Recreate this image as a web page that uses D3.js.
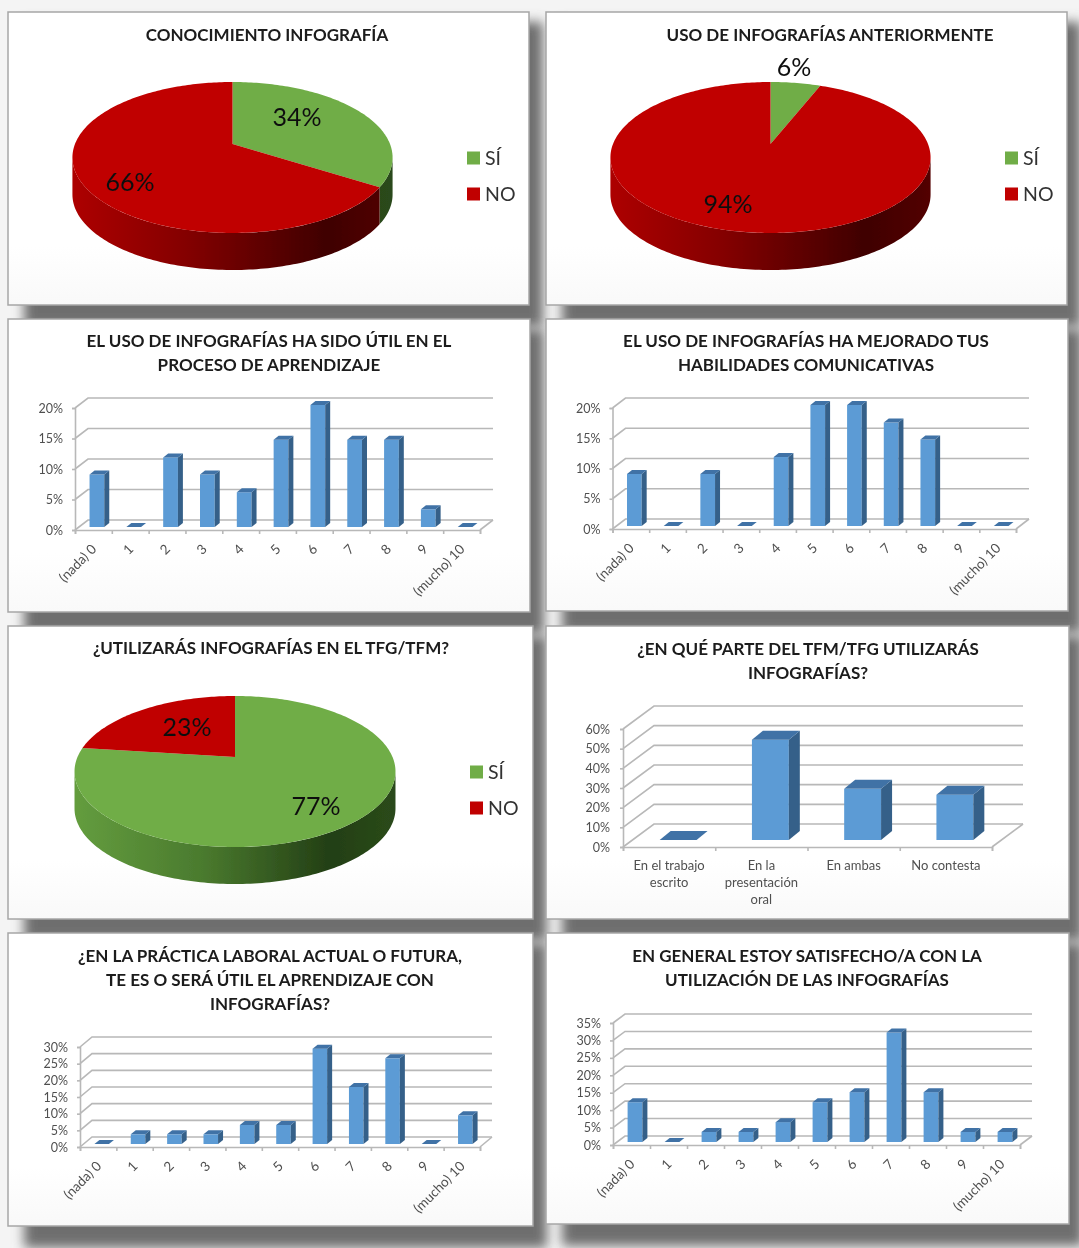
<!DOCTYPE html>
<html>
<head>
<meta charset="utf-8">
<script src="https://cdn.jsdelivr.net/npm/d3@7"></script>
<style>
html, body { margin: 0; padding: 0; background: #fff; }
svg { display: block; }
text { font-family: Lato, "Open Sans", sans-serif; }
</style>
</head>
<body>
<div id="chart"></div>
<script>
// ---- data ----
var pieLabels = ["SÍ", "NO"];
var conocimiento = [34, 66];
var usoAnterior = [6, 94];
var utilizaras = [77, 23];

var scale11 = ["(nada) 0", "1", "2", "3", "4", "5", "6", "7", "8", "9", "(mucho) 10"];
var utilAprendizaje = [8.6, 0, 11.4, 8.6, 5.7, 14.3, 20, 14.3, 14.3, 2.9, 0];
var habilidades = [8.6, 0, 8.6, 0, 11.4, 20, 20, 17.1, 14.3, 0, 0];
var practicaLaboral = [0, 2.9, 2.9, 2.9, 5.7, 5.7, 28.6, 17.1, 25.7, 0, 8.6];
var satisfecho = [11.4, 0, 2.9, 2.9, 5.7, 11.4, 14.3, 31.4, 14.3, 2.9, 2.9];

var parteCats = [["En el trabajo", "escrito"], ["En la", "presentación", "oral"], ["En ambas"], ["No contesta"]];
var parteValues = [0, 51, 26, 23];

var ticks20 = [0, 5, 10, 15, 20];
var ticks30 = [0, 5, 10, 15, 20, 25, 30];
var ticks35 = [0, 5, 10, 15, 20, 25, 30, 35];
var ticks60 = [0, 10, 20, 30, 40, 50, 60];

var titles = [
    ["CONOCIMIENTO INFOGRAFÍA"],
    ["USO DE INFOGRAFÍAS ANTERIORMENTE"],
    ["EL USO DE INFOGRAFÍAS HA SIDO ÚTIL EN EL", "PROCESO DE APRENDIZAJE"],
    ["EL USO DE INFOGRAFÍAS HA MEJORADO TUS", "HABILIDADES COMUNICATIVAS"],
    ["¿UTILIZARÁS INFOGRAFÍAS EN EL TFG/TFM?"],
    ["¿EN QUÉ PARTE DEL TFM/TFG UTILIZARÁS", "INFOGRAFÍAS?"],
    ["¿EN LA PRÁCTICA LABORAL ACTUAL O FUTURA,", "TE ES O SERÁ ÚTIL EL APRENDIZAJE CON", "INFOGRAFÍAS?"],
    ["EN GENERAL ESTOY SATISFECHO/A CON LA", "UTILIZACIÓN DE LAS INFOGRAFÍAS"]
];

// ---- layout ----
var width = 1079, height = 1248;
var GREEN = "#70ad47", RED = "#c00000";
var TICK_COLOR = "#505050", GRID = "#b8b8b8";
var WALL_STOPS = {
    "SÍ": [[0, "#639c3e"], [0.4, "#4a7a2e"], [0.8, "#233f15"], [1, "#2a4a1a"]],
    "NO": [[0, "#ac0000"], [0.35, "#840000"], [0.8, "#3f0000"], [1, "#520000"]]
};

var panels = [
    { x: 8, y: 12, w: 521, h: 293, tx: 267, ty: 35 },
    { x: 546, y: 12, w: 521, h: 293, tx: 830, ty: 35 },
    { x: 8, y: 319, w: 522, h: 293, tx: 269, ty: 341 },
    { x: 546, y: 319, w: 522, h: 292, tx: 806, ty: 341 },
    { x: 8, y: 626, w: 525, h: 293, tx: 271, ty: 648 },
    { x: 546, y: 626, w: 523, h: 293, tx: 808, ty: 649 },
    { x: 8, y: 933, w: 525, h: 293, tx: 270, ty: 956 },
    { x: 546, y: 933, w: 523, h: 291, tx: 807, ty: 956 }
];

var svg = d3.select("#chart").append("svg")
    .attr("width", width)
    .attr("height", height)
    .attr("viewBox", [0, 0, width, height]);

var defs = svg.append("defs");

defs.append("filter").attr("id", "soft")
    .attr("x", 0).attr("y", 0).attr("width", 1).attr("height", 1)
    .append("feGaussianBlur").attr("stdDeviation", 0.55);

defs.append("filter").attr("id", "shadow")
    .attr("x", "-10%").attr("y", "-15%").attr("width", "120%").attr("height", "130%")
    .append("feGaussianBlur").attr("stdDeviation", 6);

var panelFill = defs.append("linearGradient").attr("id", "panelFill")
    .attr("x1", 0).attr("x2", 0).attr("y1", 0).attr("y2", 1);
panelFill.append("stop").attr("offset", 0.8).attr("stop-color", "#fff");
panelFill.append("stop").attr("offset", 1).attr("stop-color", "#f9f9f9");

var root = svg.append("g").attr("filter", "url(#soft)");
root.append("rect").attr("width", width).attr("height", height).attr("fill", "#f4f4f4");

// shadows first so that no panel is covered by its neighbour's shadow
root.selectAll(".shadow").data(panels).enter().append("rect")
    .attr("x", function (d) { return d.x + 16; })
    .attr("y", function (d) { return d.y + 10; })
    .attr("width", function (d) { return d.w - 2; })
    .attr("height", function (d) { return d.h + 12; })
    .attr("fill", "#6e6e6e")
    .attr("filter", "url(#shadow)");

root.selectAll(".panel").data(panels).enter().append("rect")
    .attr("x", function (d) { return d.x; })
    .attr("y", function (d) { return d.y; })
    .attr("width", function (d) { return d.w; })
    .attr("height", function (d) { return d.h; })
    .attr("fill", "url(#panelFill)")
    .attr("stroke", "#a6a6a6")
    .attr("stroke-width", 1.5);

panels.forEach(function (p, i) {
    titles[i].forEach(function (line, k) {
        root.append("text")
            .attr("x", p.tx)
            .attr("y", p.ty + k * 24)
            .attr("dy", "0.35em")
            .attr("text-anchor", "middle")
            .attr("font-size", 17)
            .attr("font-weight", 700)
            .attr("fill", "#1a1a1a")
            .text(line);
    });
});

// perspective view of a round pie: far half is squashed, near half is stretched
function pieProjector(c) {
    var persp = (c.near - c.far) / (c.near + c.far);
    var a = c.far * (1 + persp);
    return function (angle) {
        var u = Math.sin(angle), v = Math.cos(angle), w = 1 + persp * v;
        return [c.cx + c.r * u / w, c.cy - a * v / w];
    };
}

function arcPoints(project, a0, a1) {
    var n = Math.max(2, Math.ceil((a1 - a0) / 0.02));
    return d3.range(n + 1).map(function (i) {
        return project(a0 + (a1 - a0) * i / n);
    });
}

function drawPie(c, values, labelPos, legendX, legendY) {
    var project = pieProjector(c);
    var colors = d3.scaleOrdinal().domain(pieLabels).range([GREEN, RED]);
    var slices = d3.pie().sort(null)(values);
    var line = d3.line();

    var persp = (c.near - c.far) / (c.near + c.far);
    var wallStart = Math.acos(-persp), wallEnd = 2 * Math.PI - wallStart;

    // side wall, only the part facing the viewer
    slices.forEach(function (s, i) {
        var a0 = Math.max(s.startAngle, wallStart), a1 = Math.min(s.endAngle, wallEnd);
        if (a1 <= a0) return;
        var rim = arcPoints(project, a0, a1);
        var lower = rim.map(function (p) { return [p[0], p[1] + c.depth]; }).reverse();
        var gid = "wall" + c.cx + "_" + i;
        var g = defs.append("linearGradient").attr("id", gid)
            .attr("gradientUnits", "userSpaceOnUse")
            .attr("x1", c.cx - c.r).attr("x2", c.cx + c.r);
        WALL_STOPS[pieLabels[i]].forEach(function (st) {
            g.append("stop").attr("offset", st[0]).attr("stop-color", st[1]);
        });
        root.append("path")
            .attr("d", line(rim.concat(lower)) + "Z")
            .attr("fill", "url(#" + gid + ")");
    });

    // top face
    slices.forEach(function (s, i) {
        var rim = arcPoints(project, s.startAngle, s.endAngle);
        root.append("path")
            .attr("d", line([[c.cx, c.cy]].concat(rim)) + "Z")
            .attr("fill", colors(pieLabels[i]));
    });

    values.forEach(function (v, i) {
        root.append("text")
            .attr("x", labelPos[i][0])
            .attr("y", labelPos[i][1])
            .attr("dy", "0.35em")
            .attr("text-anchor", "middle")
            .attr("font-size", 25)
            .attr("fill", "#111")
            .text(v + "%");
    });

    pieLabels.forEach(function (name, i) {
        var ly = legendY + i * 36;
        root.append("rect")
            .attr("x", legendX).attr("y", ly - 6.5)
            .attr("width", 13).attr("height", 13)
            .attr("fill", colors(name));
        root.append("text")
            .attr("x", legendX + 18).attr("y", ly)
            .attr("dy", "0.35em")
            .attr("font-size", 19.5)
            .attr("fill", "#333")
            .text(name);
    });
}

function drawBars(c, cats, values, ticks) {
    var x = d3.scaleBand().domain(d3.range(cats.length)).range([c.x0, c.x1])
        .paddingInner(c.pad).paddingOuter(c.pad / 2);
    var y = d3.scaleLinear().domain([0, d3.max(ticks)]).range([c.y0, c.yTop]);
    var g = root.append("g");

    // walls: grid lines run from the front axis to the back and along the back wall
    var line = d3.line();
    ticks.forEach(function (t) {
        g.append("path")
            .attr("d", line([[c.x0, y(t)], [c.x0 + c.dx, y(t) - c.dy], [c.x1 + c.dx, y(t) - c.dy]]))
            .attr("fill", "none")
            .attr("stroke", GRID)
            .attr("stroke-width", 1.6);
    });
    g.append("path")
        .attr("d", line([[c.x1, c.y0], [c.x1 + c.dx, c.y0 - c.dy]]))
        .attr("fill", "none").attr("stroke", GRID).attr("stroke-width", 1.6);

    // axes
    var yAxis = d3.axisLeft(y).tickValues(ticks).tickSize(3).tickFormat(function (d) { return d + "%"; });
    var ya = g.append("g").attr("transform", "translate(" + c.x0 + ",0)").call(yAxis);
    var xAxis = d3.axisBottom(d3.scalePoint().domain(d3.range(cats.length + 1)).range([c.x0, c.x1]))
        .tickSize(4).tickFormat("");
    var xa = g.append("g").attr("transform", "translate(0," + c.y0 + ")").call(xAxis);
    [ya, xa].forEach(function (a) {
        a.selectAll("path, line").attr("stroke", GRID).attr("stroke-width", 1.6);
    });
    ya.selectAll("text")
        .attr("x", -c.labelGap)
        .attr("font-size", 12.5)
        .attr("font-family", "Lato, sans-serif")
        .attr("fill", TICK_COLOR);

    // bars
    values.forEach(function (v, i) {
        var bx = x(i) + c.offX, bw = x.bandwidth();
        var base = c.y0 - c.offY, top = y(v) - c.offY;
        if (v > 0) {
            g.append("rect")
                .attr("x", bx).attr("y", top)
                .attr("width", bw).attr("height", base - top)
                .attr("fill", "#5b9bd5");
            g.append("path")
                .attr("d", line([[bx + bw, top], [bx + bw + c.barDx, top - c.barDy], [bx + bw + c.barDx, base - c.barDy], [bx + bw, base]]) + "Z")
                .attr("fill", "#356089");
        }
        g.append("path")
            .attr("d", line([[bx, top], [bx + c.barDx, top - c.barDy], [bx + bw + c.barDx, top - c.barDy], [bx + bw, top]]) + "Z")
            .attr("fill", "#3f72a6");
    });

    // category labels
    cats.forEach(function (name, i) {
        var cx = x(i) + x.bandwidth() / 2;
        if (c.rotate) {
            g.append("text")
                .attr("transform", "translate(" + (cx + 4) + "," + (c.y0 + 20) + ") rotate(-45)")
                .attr("text-anchor", "end")
                .attr("font-size", 13.5)
                .attr("fill", TICK_COLOR)
                .text(name);
        } else {
            name.forEach(function (part, k) {
                g.append("text")
                    .attr("x", cx)
                    .attr("y", c.y0 + 18 + k * 17)
                    .attr("dy", "0.35em")
                    .attr("text-anchor", "middle")
                    .attr("font-size", 13)
                    .attr("fill", TICK_COLOR)
                    .text(part);
            });
        }
    });
}

drawPie({ cx: 232.5, cy: 144, r: 157.5, far: 62, near: 89, depth: 37 }, conocimiento, [[297, 117], [130, 182]], 467, 158);
drawPie({ cx: 770.5, cy: 144, r: 157.5, far: 62, near: 89, depth: 37 }, usoAnterior, [[794, 67], [728, 204]], 1005, 158);
drawPie({ cx: 235, cy: 757, r: 157.5, far: 61, near: 90, depth: 37 }, utilizaras, [[316, 806], [187, 727]], 470, 772);

var smallBars = { pad: 0.6, offX: 3.5, offY: 3, barDx: 5, barDy: 4, labelGap: 12, rotate: true };
drawBars(Object.assign({ x0: 75, x1: 480, y0: 530, yTop: 408, dx: 13, dy: 10 }, smallBars), scale11, utilAprendizaje, ticks20);
drawBars(Object.assign({ x0: 612.5, x1: 1016, y0: 529, yTop: 408, dx: 13, dy: 10 }, smallBars), scale11, habilidades, ticks20);
drawBars(Object.assign({ x0: 80, x1: 480, y0: 1147, yTop: 1047, dx: 12, dy: 10 }, smallBars), scale11, practicaLaboral, ticks30);
drawBars(Object.assign({ x0: 613, x1: 1020, y0: 1145, yTop: 1023, dx: 12, dy: 9 }, smallBars), scale11, satisfecho, ticks35);
drawBars({ x0: 623, x1: 992, y0: 847, yTop: 729, dx: 31, dy: 23, pad: 0.6, offX: 9, offY: 7, barDx: 11, barDy: 9, labelGap: 13, rotate: false }, parteCats, parteValues, ticks60);
</script>
</body>
</html>
